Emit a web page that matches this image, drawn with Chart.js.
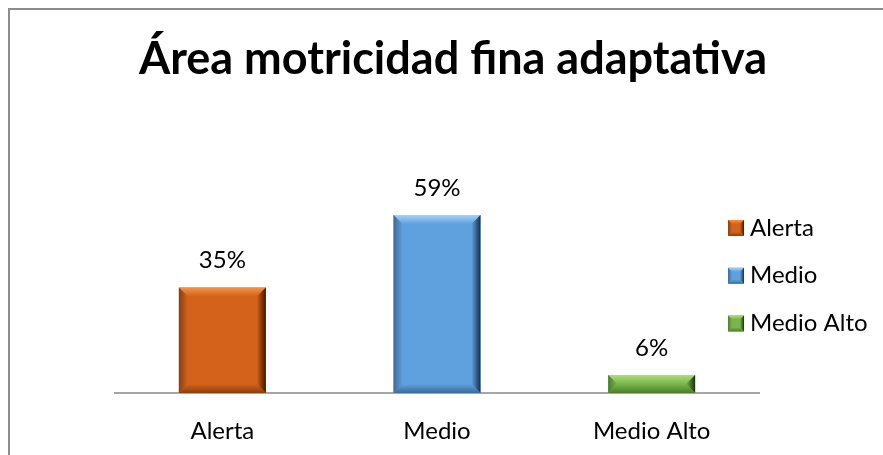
<!DOCTYPE html>
<html><head><meta charset="utf-8">
<script src="https://cdn.jsdelivr.net/npm/chart.js@4/dist/chart.umd.min.js"></script>
<style>html,body{margin:0;padding:0;background:#fff;}canvas{display:block;}</style>
</head><body>
<canvas id="c" width="883" height="455"></canvas>
<script>
const titleText = 'Área motricidad fina adaptativa';
const categories = ['Alerta', 'Medio', 'Medio Alto'];
const values = [35, 59, 6];
const valueLabels = ['35%', '59%', '6%'];
const baseColors = ['#D4621A', '#5FA0DE', '#78B64A'];
const lightColors = ['#F59448', '#A4D2F6', '#AEDE7C'];
const darkColors = ['#8A3E0E', '#3B6C98', '#4C7C2C'];
const darkestColors = ['#3A1804', '#182E44', '#1A300E'];
const FONT = 'Lato, "Open Sans", sans-serif';

function bevel(ctx, l, t, r, bot, b, i) {
  b = Math.min(b, (bot - t) / 2, (r - l) / 2);
  const base = baseColors[i];
  let g;
  g = ctx.createLinearGradient(0, t, 0, t + b);
  g.addColorStop(0, lightColors[i]); g.addColorStop(1, base);
  ctx.fillStyle = g; ctx.beginPath();
  ctx.moveTo(l, t); ctx.lineTo(r, t); ctx.lineTo(r - b, t + b); ctx.lineTo(l + b, t + b); ctx.closePath(); ctx.fill();
  g = ctx.createLinearGradient(l, 0, l + b, 0);
  g.addColorStop(0, darkColors[i]); g.addColorStop(1, base);
  ctx.fillStyle = g; ctx.beginPath();
  ctx.moveTo(l, t); ctx.lineTo(l + b, t + b); ctx.lineTo(l + b, bot - b); ctx.lineTo(l, bot); ctx.closePath(); ctx.fill();
  g = ctx.createLinearGradient(r - b, 0, r, 0);
  g.addColorStop(0, base); g.addColorStop(1, darkestColors[i]);
  ctx.fillStyle = g; ctx.beginPath();
  ctx.moveTo(r, t); ctx.lineTo(r, bot); ctx.lineTo(r - b, bot - b); ctx.lineTo(r - b, t + b); ctx.closePath(); ctx.fill();
  g = ctx.createLinearGradient(0, bot - b, 0, bot);
  g.addColorStop(0, base); g.addColorStop(1, darkColors[i]);
  ctx.fillStyle = g; ctx.beginPath();
  ctx.moveTo(l, bot); ctx.lineTo(r, bot); ctx.lineTo(r - b, bot - b); ctx.lineTo(l + b, bot - b); ctx.closePath(); ctx.fill();
}

const decor = {
  id: 'decor',
  beforeDraw(chart) {
    const ctx = chart.ctx;
    ctx.save();
    ctx.strokeStyle = '#8C8C8C'; ctx.lineWidth = 2;
    ctx.beginPath(); ctx.moveTo(9, 455); ctx.lineTo(9, 9); ctx.lineTo(883, 9); ctx.stroke();
    ctx.fillStyle = '#000';
    ctx.font = 'bold 45px ' + FONT;
    ctx.textAlign = 'center'; ctx.textBaseline = 'alphabetic';
    ctx.fillText(titleText, 453, 74);
    ctx.restore();
  },
  afterDatasetsDraw(chart) {
    const ctx = chart.ctx;
    const meta = chart.getDatasetMeta(0);
    ctx.save();
    meta.data.forEach((el, i) => {
      const l = el.x - el.width / 2, r = el.x + el.width / 2;
      const t = Math.min(el.y, el.base), bot = Math.max(el.y, el.base);
      bevel(ctx, l, t, r, bot, 9, i);
      ctx.fillStyle = '#000';
      ctx.font = '24px ' + FONT;
      ctx.textAlign = 'center'; ctx.textBaseline = 'middle';
      ctx.fillText(valueLabels[i], el.x, t - 27);
    });
    categories.forEach((c, i) => {
      const cy = 228 + i * 47.7;
      ctx.fillStyle = baseColors[i];
      ctx.fillRect(728, cy - 8, 16, 16);
      bevel(ctx, 728, cy - 8, 744, cy + 8, 4, i);
      ctx.fillStyle = '#000';
      ctx.font = '24px ' + FONT;
      ctx.textAlign = 'left'; ctx.textBaseline = 'middle';
      ctx.fillText(c, 750, cy);
    });
    ctx.restore();
  }
};

new Chart(document.getElementById('c'), {
  type: 'bar',
  data: {
    labels: categories,
    datasets: [{ data: values, backgroundColor: baseColors, borderWidth: 0, barPercentage: 1, categoryPercentage: 0.405 }]
  },
  options: {
    responsive: false, animation: false,
    layout: { padding: { left: 115, right: 124, top: 197, bottom: 0 } },
    plugins: { legend: { display: false }, tooltip: { enabled: false }, title: { display: false } },
    scales: {
      x: {
        grid: { display: false, drawTicks: false },
        border: { display: true, color: '#A6A6A6', width: 2 },
        ticks: { color: '#000', font: { family: FONT, size: 24 }, padding: 24 },
        afterFit(s) { s.height = 62; }
      },
      y: { display: false, min: 0, max: 65 }
    }
  },
  plugins: [decor]
});
</script>
</body></html>
